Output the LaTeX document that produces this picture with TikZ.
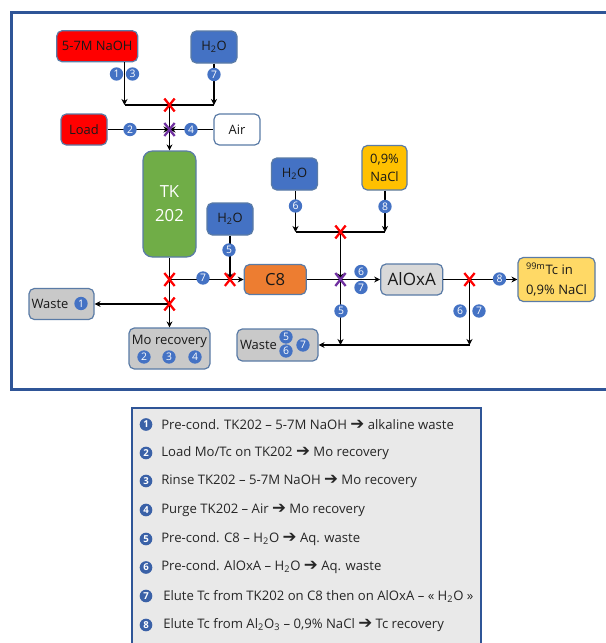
\documentclass[tikz,border=0pt]{standalone}
\usepackage{fontspec}
\setmainfont{Open Sans}
\newfontfamily\djv{DejaVu Sans}
\usetikzlibrary{arrows.meta,shapes.misc}
\definecolor{frameblue}{HTML}{2F5597}
\definecolor{edgeblue}{HTML}{5A7BA6}
\definecolor{badgeblue}{HTML}{4472C4}
\definecolor{wred}{HTML}{FF0000}
\definecolor{wgreen}{HTML}{70AD47}
\definecolor{worange}{HTML}{ED7D31}
\definecolor{wgold}{HTML}{FFC000}
\definecolor{wyellow}{HTML}{FFD966}
\definecolor{wgrey}{HTML}{C9C9C9}
\definecolor{lgrey}{HTML}{D9D9D9}
\definecolor{legendgrey}{HTML}{E9E9E9}
\definecolor{wpurple}{HTML}{7030A0}
\newcommand{\tosub}[1]{\textsubscript{#1}}
\newcommand{\rarr}{{\djv\fontsize{12.5}{10}\selectfont\bfseries\char"2794}}
\tikzset{
  wh/.style 2 args={minimum width=#1*0.75pt,minimum height=#2*0.75pt},
  boxn/.style={draw=edgeblue,line width=0.9pt,rounded corners=4pt,inner sep=0pt,align=center,font=\fontsize{9.7}{14}\selectfont,text=black!90},
  flow/.style={draw=black,line width=1.3pt,-{Stealth[length=4.5pt,width=4.5pt]}},
  pipe/.style={draw=black,line width=1.3pt},
  badge/.style={circle,fill=badgeblue,draw=none,inner sep=0pt,minimum size=10pt,text=white,font=\fontsize{7.8}{8}\selectfont},
  lbadge/.style={badge,minimum size=9.5pt,fill=badgeblue!85!black,font=\fontsize{7.2}{8}\selectfont\bfseries},
  valve/.style={cross out,draw=wred,line width=1.7pt,minimum width=6pt,minimum height=8pt,inner sep=0pt},
  pvalve/.style={valve,draw=wpurple},
  legtext/.style={anchor=west,inner sep=0pt,font=\fontsize{9.85}{12}\selectfont,text=black!85},
}
\begin{document}
\begin{tikzpicture}[x=0.75pt,y=-0.75pt]
\clip (0,0) rectangle (606,643);
% frame
\node[draw=frameblue,line width=2pt,fill=white,wh={620}{377},anchor=north west,inner sep=0pt] (frame) at (10,11) {};
% boxes
\node[boxn,fill=wred,wh={81}{31}] (naoh) at (97.25,46.25) {5-7M NaOH};
\node[boxn,fill=badgeblue,wh={46}{32}] (wa) at (214,47) {H\tosub{2}O};
\node[boxn,fill=wred,wh={46}{31}] (load) at (84,129.5) {Load};
\node[boxn,fill=white,wh={46}{31}] (air) at (237,129.5) {Air};
\node[boxn,fill=wgreen,wh={53}{106},rounded corners=7pt,text=white,font=\fontsize{12.5}{18}\selectfont] (tk) at (169.5,204) {TK\\202};
\node[boxn,fill=badgeblue,wh={46}{32}] (wb) at (230,219) {H\tosub{2}O};
\node[boxn,fill=worange,wh={62}{30},font=\fontsize{12.5}{14}\selectfont] (c8) at (275.25,279.5) {C8};
\node[boxn,fill=wgrey,wh={65}{31},align=left,text width=60*0.75pt] (wasteA) at (61.5,304) {Waste};
\node[boxn,fill=wgrey,wh={81}{41},anchor=center] (mo) at (169.5,348.5) {};
\node[font=\fontsize{9.8}{11}\selectfont,inner sep=0pt,text=black!90] (motext) at (169.5,341) {Mo recovery};
\node[boxn,fill=wgrey,wh={81}{32},text width=75*0.75pt,align=left] (wasteB) at (277.5,345) {Waste};
\node[boxn,fill=badgeblue,wh={46}{32}] (wc) at (294.5,174) {H\tosub{2}O};
\node[boxn,fill=wgold,wh={45}{44.5}] (nacl) at (384.5,167.75) {0,9\%\\NaCl};
\node[boxn,fill=lgrey,wh={62}{31},font=\fontsize{12.8}{14}\selectfont] (alox) at (411.75,279.5) {AlOxA};
\node[boxn,fill=wyellow,wh={77}{44},font=\fontsize{9.8}{14.5}\selectfont,align=left] (tc) at (556.5,279.5) {\textsuperscript{99m}Tc in\\0,9\% NaCl};
% junctions
\coordinate (jl) at (124.5,105);
\coordinate (jr) at (214,105);
\coordinate (jbl) at (295.5,232);
\coordinate (jbr) at (385,232);
\coordinate (jwl) at (340.5,345);
\coordinate (jwr) at (469.5,345);
% valves
\coordinate (vtop) at (169.5,105);
\coordinate (vmid) at (169.5,129.5);
\coordinate (vout) at (169.5,279.5);
\coordinate (vwaste) at (169.5,304);
\coordinate (vc8) at (230,279.5);
\coordinate (vsel) at (340.5,232);
\coordinate (vp) at (340.5,279.5);
\coordinate (valox) at (469.5,279.5);
% connectors
\draw[flow] (jl |- naoh.south) -- (jl);
\draw[flow] (wa.south) -- (jr);
\draw[pipe] (jl) -- (vtop) -- (jr);
\draw[flow] (vtop) -- (tk.north);
\draw[flow] (load.east) -- (vmid);
\draw[flow] (air.west) -- (vmid);
\draw[flow] (tk.south) -- (mo.north);
\draw[flow] (vwaste) -- (wasteA.east);
\draw[flow] (vout) -- (c8.west);
\draw[flow] (wb.south) -- (vc8);
\draw[flow] (jbl |- wc.south) -- (jbl);
\draw[flow] (nacl.south -| jbr) -- (jbr);
\draw[pipe] (jbl) -- (vsel) -- (jbr);
\draw[flow] (vsel) -- (vp);
\draw[flow] (c8.east) -- (alox.west);
\draw[flow] (alox.east) -- (tc.west);
\draw[flow] (vp) -- (jwl);
\draw[flow] (valox) -- (jwr);
\draw[flow] (jwr) -- (wasteB.east);
% valve marks
\node[valve] (xtop) at (vtop) {};
\node[pvalve] (xmid) at (vmid) {};
\node[valve] (xout) at (vout) {};
\node[valve] (xwaste) at (vwaste) {};
\node[valve] (xc8) at (vc8) {};
\node[valve] (xsel) at (vsel) {};
\node[pvalve] (xp) at (vp) {};
\node[valve] (xalox) at (valox) {};
% badges
\node[badge] (b1) at (116.5,74) {1};
\node[badge] (b2) at (132.5,74) {3};
\node[badge] (b3) at (214,74.5) {7};
\node[badge] (b4) at (130,129.5) {2};
\node[badge] (b5) at (191,129.5) {4};
\node[badge] (b6) at (229,250) {5};
\node[badge] (b7) at (203,278) {7};
\node[badge] (b8) at (295.5,206) {6};
\node[badge] (b9) at (385,206.5) {8};
\node[badge] (b10) at (361,271.5) {6};
\node[badge] (b11) at (361,287.5) {7};
\node[badge] (b12) at (341,311) {5};
\node[badge] (b13) at (460,311) {6};
\node[badge] (b14) at (479,311) {7};
\node[badge] (b15) at (499.5,279) {8};
\node[badge] (b16) at (81,303.5) {1};
\node[badge] (b17) at (144,357) {2};
\node[badge] (b18) at (169,357) {3};
\node[badge] (b19) at (195,357) {4};
\node[badge] (b20) at (286,337) {5};
\node[badge] (b21) at (286,351) {6};
\node[badge] (b22) at (303,345) {7};
% legend
\node[draw=frameblue,line width=1.7pt,fill=legendgrey,wh={349}{260},anchor=north west,inner sep=0pt] (legend) at (131,407) {};
\node[lbadge] (l1) at (146,424.5) {1};
\node[legtext] (t1) at (161,424.5) {Pre-cond. TK202 – 5-7M NaOH \rarr{} alkaline waste};
\node[lbadge] (l2) at (146,453) {2};
\node[legtext] (t2) at (161,453) {Load Mo/Tc on TK202 \rarr{} Mo recovery};
\node[lbadge] (l3) at (146,481) {3};
\node[legtext] (t3) at (161,481) {Rinse TK202 – 5-7M NaOH \rarr{} Mo recovery};
\node[lbadge] (l4) at (146,510) {4};
\node[legtext] (t4) at (161,510) {Purge TK202 – Air \rarr{} Mo recovery};
\node[lbadge] (l5) at (146,539) {5};
\node[legtext] (t5) at (161,539) {Pre-cond. C8 – H\tosub{2}O \rarr{} Aq. waste};
\node[lbadge] (l6) at (146,567.5) {6};
\node[legtext] (t6) at (161,567.5) {Pre-cond. AlOxA – H\tosub{2}O \rarr{} Aq. waste};
\node[lbadge] (l7) at (146,596) {7};
\node[legtext] (t7) at (163,596) {Elute Tc from TK202 on C8 then on AlOxA – « H\tosub{2}O »};
\node[lbadge] (l8) at (146,625) {8};
\node[legtext] (t8) at (163,625) {Elute Tc from Al\tosub{2}O\tosub{3} – 0,9\% NaCl \rarr{} Tc recovery};
\end{tikzpicture}
\end{document}
